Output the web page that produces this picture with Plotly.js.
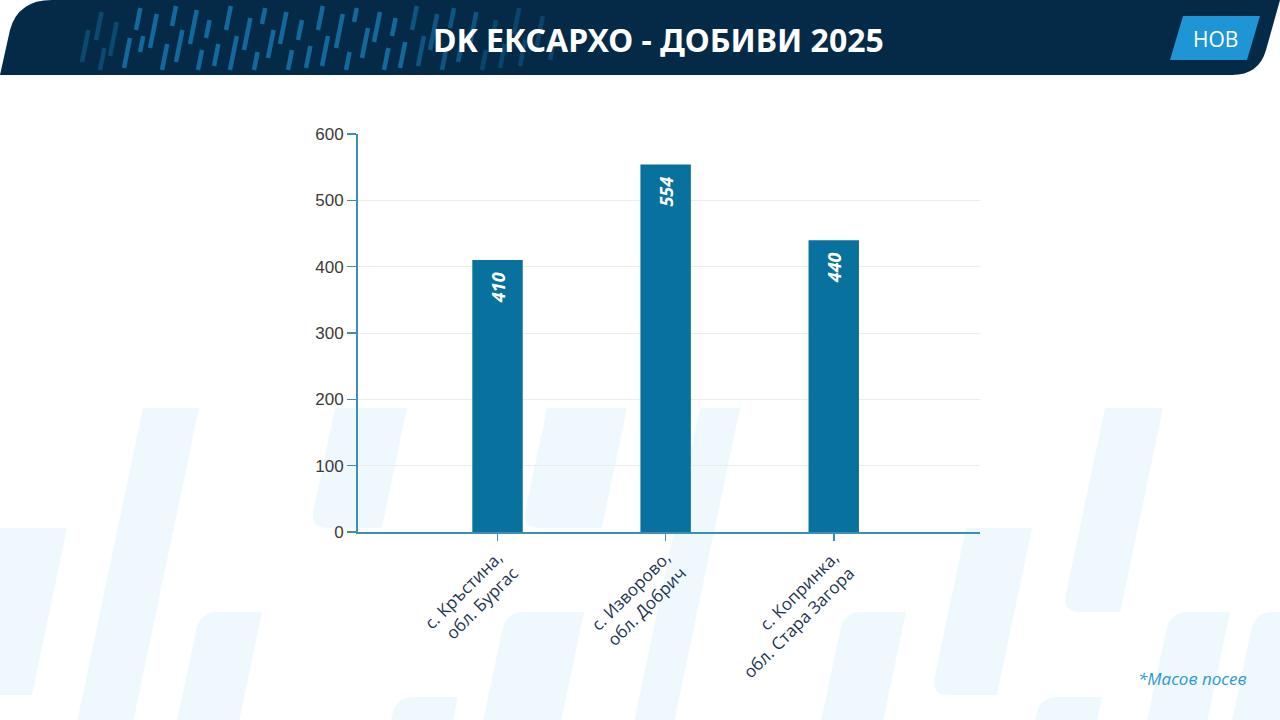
<!DOCTYPE html>
<html><head><meta charset="utf-8">
<script src="https://cdn.plot.ly/plotly-3.0.1.min.js"></script>
<style>html,body{margin:0;padding:0;background:#fff;}#chart{width:1280px;height:720px;}</style>
</head><body><div id="chart"></div>
<script>
// ---- data ----
const categories = ["с. Кръстина,<br>обл. Бургас", "с. Изворово,<br>обл. Добрич", "с. Копринка,<br>обл. Стара Загора"];
const yields = [410, 554, 440];
const yTicks = [0, 100, 200, 300, 400, 500, 600];
const titleText = "DK ЕКСАРХО - ДОБИВИ 2025";
const noteText = "*Масов посев";
const badgeText = "НОВ";

// ---- layout helpers (pixel -> paper) ----
const L = 358, R = 980, T = 134, B = 532;
const W = 1280, H = 720;
const px = x => (x - L) / (R - L);
const py = y => (B - y) / (B - T);
const P = (x, y) => px(x).toFixed(5) + ',' + py(y).toFixed(5);

const shapes = [];
// background watermark: slanted bars [topY, botY, topLeftX, width, roundBottom, roundTop]
const SL = 0.21;
const wm = [
  [408, 720, 143, 56, false, false],
  [528, 695, 0, 67, true, false],
  [612, 720, 200, 62, false, true],
  [408, 528, 335, 72, true, false],
  [408, 528, 547, 80, true, false],
  [697, 720, 396, 62, false, true],
  [612, 720, 506, 78, false, true],
  [408, 720, 700, 40, false, false],
  [612, 720, 844, 62, false, true],
  [528, 695, 966, 66, true, false],
  [408, 612, 1105, 58, true, false],
  [612, 720, 1170, 60, false, true],
  [697, 720, 1040, 62, false, true],
  [612, 720, 1255, 60, false, true]
];
wm.forEach(s => {
  const [t, b, x, w, rb, rt] = s;
  const dx = (b - t) * SL;
  const r = 18;
  let p = '';
  if (rt) {
    p += 'M ' + P(x - r*SL, t + r) + ' Q ' + P(x, t) + ' ' + P(x + r, t);
  } else {
    p += 'M ' + P(x, t);
  }
  p += ' L ' + P(x + w, t) + ' L ' + P(x + w - dx, b);
  if (rb) {
    p += ' L ' + P(x - dx + r, b) + ' Q ' + P(x - dx, b) + ' ' + P(x - dx + r*SL, b - r);
  } else {
    p += ' L ' + P(x - dx, b);
  }
  p += ' Z';
  shapes.push({type:'path', xref:'paper', yref:'paper', layer:'below', path:p,
    fillcolor:'#eaf5fc', opacity:0.75, line:{width:0}});
});

// header band
shapes.push({type:'path', xref:'paper', yref:'paper', layer:'above',
  path: 'M ' + P(0,75) + ' L ' + P(10,30) + ' Q ' + P(18,0) + ' ' + P(52,0) + ' L ' + P(1280,0) +
        ' L ' + P(1266,50) + ' Q ' + P(1259,75) + ' ' + P(1232,75) + ' Z',
  fillcolor:'#052a47', line:{width:0}});
// header decorative dashes [bottomX, topY, bottomY]
const dashes = [[82,30,62],[96,12,40],[100,48,70],[110,22,56],[124,38,68],[136,8,30],[140,36,52],[150,14,48],[162,44,70],[172,6,26],[176,30,62],[190,10,44],[198,50,70],[206,20,38],[214,44,66],[226,6,30],[230,36,70],[244,18,50],[254,52,70],[262,8,24],[268,30,58],[280,12,44],[288,50,70],[298,20,40],[306,46,68],[318,6,30],[322,36,66],[336,14,48],[346,52,70],[354,8,22],[362,28,58],[374,12,42],[384,48,70],[392,18,36],[400,42,68],[412,6,30],[418,36,66],[430,14,50],[442,52,70],[450,8,28],[458,34,62],[470,12,44],[482,50,70],[492,20,40],[500,44,68],[514,8,34],[520,40,66],[536,16,50],[550,30,60]];
dashes.forEach(d => {
  const [x, t, b] = d;
  let a = 0.8;
  if (x < 120) a = 0.4; else if (x > 470) a = 0.35; else if (x > 400) a = 0.55;
  shapes.push({type:'line', xref:'paper', yref:'paper', layer:'above',
    x0:px(x), y0:py(b), x1:px(x + (b - t) * 0.2), y1:py(t),
    line:{color:'rgba(22,120,178,' + a + ')', width:4.5}});
});
// badge
shapes.push({type:'path', xref:'paper', yref:'paper', layer:'above',
  path: 'M ' + P(1183,16) + ' L ' + P(1260,16) + ' L ' + P(1247,60) + ' L ' + P(1170,60) + ' Z',
  fillcolor:'#1e95d4', line:{width:0}});

const data = [{
  type:'bar', x: categories, y: yields,
  marker:{color:'#08719d'}, width:0.3,
  text: yields.map(String), texttemplate:'<b><i>%{text}</i></b>\u00a0\u00a0',
  textposition:'inside', insidetextanchor:'end', textangle:-90,
  textfont:{family:'Open Sans', size:18, color:'#ffffff'},
  hoverinfo:'none', cliponaxis:false
}];

const layout = {
  width:W, height:H,
  margin:{l:L, r:W-R, t:T, b:H-B, pad:0},
  paper_bgcolor:'#ffffff', plot_bgcolor:'rgba(0,0,0,0)',
  showlegend:false,
  xaxis:{type:'category', range:[-0.83, 2.87], showgrid:false, zeroline:false,
    showline:true, linecolor:'#3f8fb3', linewidth:2,
    ticks:'outside', ticklen:7, tickcolor:'#3f8fb3', tickwidth:1.5,
    tickangle:-45, tickfont:{family:'Open Sans', size:17, color:'#1d3550'}},
  yaxis:{range:[0,600], tickvals:yTicks, showgrid:true, gridcolor:'#ececec', gridwidth:1,
    zeroline:false, showline:true, linecolor:'#3f8fb3', linewidth:2,
    ticks:'outside', ticklen:9, tickcolor:'#3f8fb3', tickwidth:1.5,
    tickfont:{family:'Liberation Sans', size:17, color:'#3a3a3a'}},
  shapes: shapes,
  annotations:[
    {text:'<b>'+titleText+'</b>', xref:'paper', yref:'paper', x:px(658), y:py(40), showarrow:false,
     xanchor:'center', yanchor:'middle', font:{family:'Noto Sans', size:32, color:'#ffffff'}},
    {text:badgeText, xref:'paper', yref:'paper', x:px(1215), y:py(39), showarrow:false,
     xanchor:'center', yanchor:'middle', font:{family:'Open Sans', size:21, color:'#ffffff'}},
    {text:'<i>'+noteText+'</i>', xref:'paper', yref:'paper', x:px(1249), y:py(678), showarrow:false,
     xanchor:'right', yanchor:'middle', font:{family:'Open Sans', size:17, color:'#2b9ad2'}}
  ]
};
Plotly.newPlot('chart', data, layout, {staticPlot:true, displayModeBar:false});
</script></body></html>
